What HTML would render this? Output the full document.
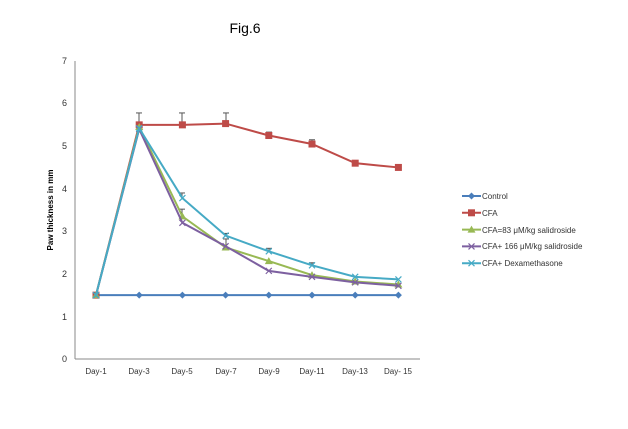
<!DOCTYPE html><html><head><style>body{margin:0;background:#fff}svg{display:block;font-family:"Liberation Sans",sans-serif}</style></head><body>
<svg id="s" width="628" height="429" xmlns="http://www.w3.org/2000/svg">
<text x="245" y="33" font-size="14" text-anchor="middle">Fig.6</text>
<line x1="75" y1="61" x2="75" y2="359" stroke="#888"/>
<line x1="75" y1="359" x2="420" y2="359" stroke="#888"/>
<g font-size="9" fill="#333" text-anchor="end">
<text x="67" y="362">0</text><text x="67" y="320">1</text><text x="67" y="277">2</text><text x="67" y="234">3</text><text x="67" y="192">4</text><text x="67" y="149">5</text><text x="67" y="106">6</text><text x="67" y="64">7</text></g>
<g font-size="8" fill="#333" text-anchor="middle">
<text x="96" y="374">Day-1</text><text x="139" y="374">Day-3</text><text x="182" y="374">Day-5</text><text x="226" y="374">Day-7</text><text x="269" y="374">Day-9</text><text x="312" y="374">Day-11</text><text x="355" y="374">Day-13</text><text x="398" y="374">Day- 15</text></g>
<text transform="translate(53,210) rotate(-90)" font-size="8" font-weight="bold" text-anchor="middle">Paw thickness in mm</text>
<g id="g"></g>
<g font-size="8" fill="#333">
<text x="482" y="199">Control</text><text x="482" y="216">CFA</text><text x="482" y="233">CFA=83 μM/kg salidroside</text><text x="482" y="249">CFA+  166 μM/kg salidroside</text><text x="482" y="266">CFA+ Dexamethasone</text></g>
</svg>
<script>
var X=i=>96+43.2*i,Y=v=>359-42.57*v;
var S=[["#4a7ebb",[1.5,1.5,1.5,1.5,1.5,1.5,1.5,1.5],"d"],
["#be4b48",[1.5,5.5,5.5,5.53,5.25,5.05,4.6,4.5],"s"],
["#98b954",[1.5,5.45,3.35,2.62,2.3,1.97,1.82,1.75],"t"],
["#7d60a0",[1.5,5.4,3.2,2.65,2.07,1.93,1.8,1.72],"x"],
["#46aac5",[1.5,5.42,3.78,2.9,2.53,2.2,1.93,1.87],"x"]];
var h="";
// error bars
[[139,5.5,5.78],[182,5.5,5.78],[226,5.53,5.78],[269,5.25,5.33],[312,5.05,5.15],[182,3.35,3.52],[182,3.78,3.9],[226,2.65,2.82],[226,2.9,2.95],[269,2.53,2.6],[312,2.2,2.26]].forEach(e=>{h+=`<line x1="${e[0]}" x2="${e[0]}" y1="${Y(e[1])}" y2="${Y(e[2])}" stroke="#555"/><line x1="${e[0]-3}" x2="${e[0]+3}" y1="${Y(e[2])}" y2="${Y(e[2])}" stroke="#555"/>`});
function mk(c,x,y,t){if(t=="d")return `<path d="M${x} ${y-3.5}L${x+3.5} ${y}L${x} ${y+3.5}L${x-3.5} ${y}Z" fill="${c}"/>`;
if(t=="s")return `<rect x="${x-3.5}" y="${y-3.5}" width="7" height="7" fill="${c}"/>`;
if(t=="t")return `<path d="M${x} ${y-4}L${x+4} ${y+3}L${x-4} ${y+3}Z" fill="${c}"/>`;
return `<path d="M${x-3} ${y-3}L${x+3} ${y+3}M${x+3} ${y-3}L${x-3} ${y+3}" stroke="${c}" stroke-width="1.2"/>`}
S.forEach((s,k)=>{h+=`<polyline fill="none" stroke="${s[0]}" stroke-width="2" points="${s[1].map((v,i)=>X(i)+","+Y(v)).join(" ")}"/>`;
s[1].forEach((v,i)=>h+=mk(s[0],X(i),Y(v),s[2]));
var ly=196+k*16.8;h+=`<line x1="462" x2="481" y1="${ly}" y2="${ly}" stroke="${s[0]}" stroke-width="2"/>`+mk(s[0],471.5,ly,s[2]);});
document.getElementById("g").innerHTML=h;
</script></body></html>
